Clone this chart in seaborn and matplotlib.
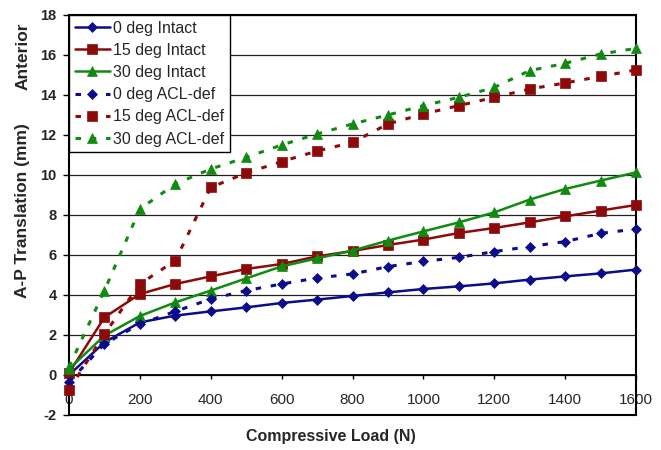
import matplotlib
matplotlib.use("Agg")
import matplotlib.pyplot as plt
import seaborn as sns
import pandas as pd

load = [0, 100, 200, 300, 400, 500, 600, 700, 800, 900, 1000, 1100, 1200, 1300, 1400, 1500, 1600]

deg0_intact = [0.0, 1.63, 2.63, 2.97, 3.18, 3.38, 3.6, 3.77, 3.95, 4.13, 4.3, 4.43, 4.58, 4.77, 4.93, 5.08, 5.27]
deg15_intact = [0.1, 2.88, 4.05, 4.55, 4.93, 5.3, 5.55, 5.93, 6.2, 6.5, 6.77, 7.1, 7.35, 7.63, 7.93, 8.22, 8.5]
deg30_intact = [0.3, 1.97, 2.95, 3.63, 4.22, 4.83, 5.43, 5.83, 6.22, 6.72, 7.18, 7.63, 8.13, 8.77, 9.3, 9.72, 10.13]
deg0_acl = [-0.35, 1.55, 2.55, 3.18, 3.8, 4.22, 4.55, 4.85, 5.05, 5.42, 5.68, 5.88, 6.17, 6.42, 6.67, 7.08, 7.3]
deg15_acl = [-0.75, 2.05, 4.55, 5.72, 9.38, 10.1, 10.67, 11.2, 11.63, 12.55, 13.05, 13.47, 13.88, 14.3, 14.6, 14.93, 15.25]
deg30_acl = [0.4, 4.22, 8.3, 9.55, 10.3, 10.88, 11.5, 12.05, 12.55, 13.0, 13.47, 13.88, 14.38, 15.22, 15.58, 16.05, 16.33]

series_names = ["0 deg Intact", "15 deg Intact", "30 deg Intact",
                "0 deg ACL-def", "15 deg ACL-def", "30 deg ACL-def"]
series_values = [deg0_intact, deg15_intact, deg30_intact, deg0_acl, deg15_acl, deg30_acl]

x_ticks = [0, 200, 400, 600, 800, 1000, 1200, 1400, 1600]
y_ticks = [-2, 0, 2, 4, 6, 8, 10, 12, 14, 16, 18]

sns.set_theme(style="white")
plt.rcParams["font.family"] = ["Liberation Sans", "DejaVu Sans"]

colors = ["#0c0c8a", "#8c0a0a", "#108a10", "#0c0c8a", "#8c0a0a", "#108a10"]
markers = ["D", "s", "^", "D", "s", "^"]
dashed = [False, False, False, True, True, True]
msizes = [5, 6.5, 6.5, 5.5, 7, 7]

fig = plt.figure(figsize=(6.61, 4.5), dpi=100)
ax = fig.add_axes([0.1044, 0.0778, 0.8578, 0.8889])

for name, vals, c, m, d, ms in zip(series_names, series_values, colors, markers, dashed, msizes):
    df = pd.DataFrame({"load": load, "val": vals})
    kw = dict(color=c, marker=m, markersize=ms, markerfacecolor=c, markeredgecolor=c,
              markeredgewidth=0.5, label=name, clip_on=False, zorder=3)
    if d:
        kw.update(linewidth=2.2, linestyle=(0, (1.8, 3.2)))
    else:
        kw.update(linewidth=1.8, linestyle="-")
    sns.lineplot(data=df, x="load", y="val", ax=ax, **kw)

ax.set_xlim(0, 1600)
ax.set_ylim(-2, 18)
ax.set_xticks(x_ticks)
ax.set_yticks(y_ticks)
ax.set_xticklabels([str(v) for v in x_ticks], fontsize=10.5, fontweight="bold")
ax.set_yticklabels([str(v) for v in y_ticks], fontsize=10.5, fontweight="bold")

ax.grid(axis="y", color="#222222", linewidth=0.9)
ax.grid(axis="x", visible=False)
ax.set_axisbelow(True)

for s in ["top", "right", "left"]:
    ax.spines[s].set_color("black")
    ax.spines[s].set_linewidth(1.5)
ax.spines["bottom"].set_position(("data", 0))
ax.spines["bottom"].set_color("black")
ax.spines["bottom"].set_linewidth(1.3)
ax.axhline(-2, color="black", linewidth=1.5, clip_on=False, zorder=5)

ax.tick_params(axis="y", direction="out", length=4, width=1, color="black", pad=5, left=True)
ax.tick_params(axis="x", direction="out", length=3, width=1, color="black", pad=10, bottom=True)

ax.set_xlabel("")
ax.set_ylabel("")
fig.text(0.5, 1 - 437 / 450, "Compressive Load (N)", ha="center", va="center",
         fontsize=11.5, fontweight="bold")
fig.text(23 / 661, 1 - 211 / 450, "A-P Translation (mm)", ha="center", va="center",
         rotation=90, fontsize=12.5, fontweight="bold")
fig.text(23 / 661, 1 - 56 / 450, "Anterior", ha="center", va="center",
         rotation=90, fontsize=12.5, fontweight="bold")

leg = ax.legend(loc="upper left", bbox_to_anchor=(0, 1), borderaxespad=0,
                fontsize=11.5, frameon=True, fancybox=False, framealpha=1,
                edgecolor="black", handlelength=2.2, handletextpad=0.2,
                labelspacing=0.45, borderpad=0.35)
leg.get_frame().set_linewidth(1.0)
leg.set_zorder(10)

fig.savefig("out.png", dpi=100)
